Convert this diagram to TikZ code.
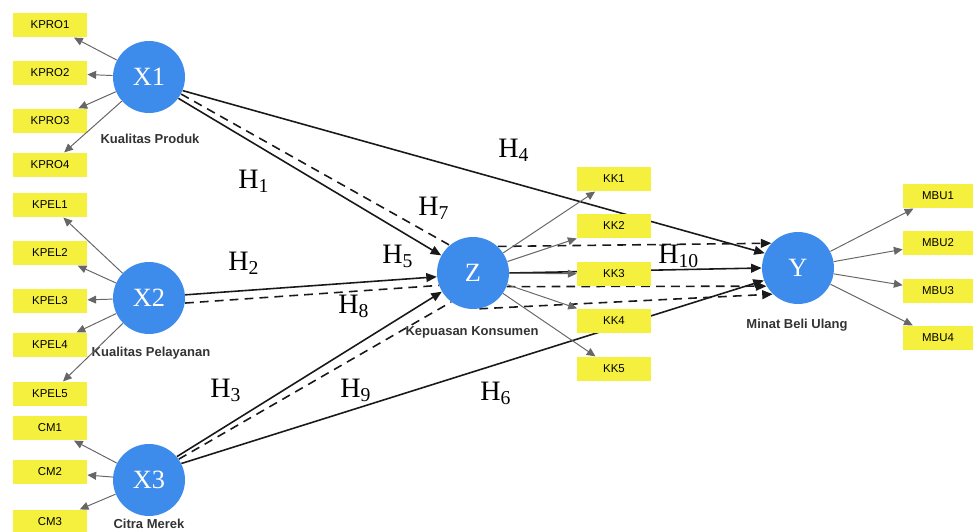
\documentclass[tikz,border=0pt]{standalone}
\usepackage{fontspec}
\setmainfont{Liberation Serif}
\setsansfont{Liberation Sans}
\usetikzlibrary{arrows.meta,backgrounds}
\definecolor{lvblue}{RGB}{61,139,235}
\definecolor{indyellow}{RGB}{245,240,62}
\newcommand{\hyp}[1]{H\textsubscript{#1}}

\tikzset{
  latent/.style={circle,fill=lvblue,text=white,minimum size=1.44cm,inner sep=0pt,
    font=\fontsize{15}{15}\selectfont},
  ind/.style={fill=indyellow,minimum width=1.48cm,minimum height=0.49cm,inner sep=0pt,
    font=\sffamily\fontsize{6.5}{7}\selectfont},
  lvname/.style={font=\sffamily\bfseries\fontsize{7.4}{9}\selectfont,text=black!80},
  hname/.style={anchor=base west,inner sep=0pt,font=\fontsize{16}{16}\selectfont},
  load/.style={-{Triangle[length=5pt,width=4.5pt]},black!60,line width=0.55pt},
  path/.style={-{Triangle[length=6pt,width=5pt]},black!90,line width=0.9pt},
  dpath/.style={black!90,line width=0.9pt,dash pattern=on 5pt off 3.5pt},
}

\begin{document}
\begin{tikzpicture}[x=0.02cm,y=-0.02cm]
\useasboundingbox (0,0) rectangle (974,531);

% latent variables
\node[latent] (X1) at (149,77) {X1};
\node[latent] (X2) at (149,298) {X2};
\node[latent] (X3) at (149,480) {X3};
\node[latent] (Z) at (473,273) {Z};
\node[latent] (Y) at (798,268) {Y};

\node[lvname] (nX1) at (150,139) {Kualitas Produk};
\node[lvname] (nX2) at (151,353) {Kualitas Pelayanan};
\node[lvname] (nX3) at (149,524) {Citra Merek};
\node[lvname] (nZ) at (472,332) {Kepuasan Konsumen};
\node[lvname] (nY) at (797,325) {Minat Beli Ulang};

% indicators
\node[ind] (kpro1) at (50,25) {KPRO1};
\node[ind] (kpro2) at (50,73) {KPRO2};
\node[ind] (kpro3) at (50,121) {KPRO3};
\node[ind] (kpro4) at (50,165) {KPRO4};
\node[ind] (kpel1) at (50,205) {KPEL1};
\node[ind] (kpel2) at (50,253) {KPEL2};
\node[ind] (kpel3) at (50,301) {KPEL3};
\node[ind] (kpel4) at (50,345) {KPEL4};
\node[ind] (kpel5) at (50,394) {KPEL5};
\node[ind] (cm1) at (50,428) {CM1};
\node[ind] (cm2) at (50,472) {CM2};
\node[ind] (cm3) at (50,522) {CM3};

\node[ind] (kk1) at (614,179) {KK1};
\node[ind] (kk2) at (614,226) {KK2};
\node[ind] (kk3) at (614,274) {KK3};
\node[ind] (kk4) at (614,321) {KK4};
\node[ind] (kk5) at (614,369) {KK5};

\node[ind,minimum width=1.4cm] (mbu1) at (938,196) {MBU1};
\node[ind,minimum width=1.4cm] (mbu2) at (938,243) {MBU2};
\node[ind,minimum width=1.4cm] (mbu3) at (938,291) {MBU3};
\node[ind,minimum width=1.4cm] (mbu4) at (938,338) {MBU4};

% loadings
\draw[load] (X1) -- (kpro1);
\draw[load] (X1) -- (kpro2);
\draw[load] (X1) -- (kpro3);
\draw[load] (X1) -- (kpro4);
\draw[load] (X2) -- (kpel1);
\draw[load] (X2) -- (kpel2);
\draw[load] (X2) -- (kpel3);
\draw[load] (X2) -- (kpel4);
\draw[load] (X2) -- (kpel5);
\draw[load] (X3) -- (cm1);
\draw[load] (X3) -- (cm2);
\draw[load] (X3) -- (cm3);
\draw[load] (Z) -- (kk1);
\draw[load] (Z) -- (kk2);
\draw[load] (Z) -- (kk3);
\draw[load] (Z) -- (kk4);
\draw[load] (Z) -- (kk5);
\draw[load] (Y) -- (mbu1);
\draw[load] (Y) -- (mbu2);
\draw[load] (Y) -- (mbu3);
\draw[load] (Y) -- (mbu4);

% structural paths, behind the boxes
\begin{pgfonlayer}{background}
\draw[path] (X1.-36) -- (Z.151);
\draw[dpath] (X1.-28) -- (Z.130);
\draw[path] (X1.-22) -- (Y.156);
\draw[path] (X2.5) -- (Z.186);
\draw[dpath] (X2.-8) -- (Z.200);
\draw[path] (X3.40) -- (Z.211);
\draw[dpath] (X3.35) -- (Z.233);
\draw[path] (X3.27) -- (Y.200);
\draw[path] (Z.east) -- (Y.180);
\draw[dpath,-{Triangle[length=6pt,width=5pt]}] (Z.47) -- (Y.137);
\draw[dpath,-{Triangle[length=6pt,width=5pt]}] (Z.-22) -- (Y.210);
\draw[dpath,-{Triangle[length=6pt,width=5pt]}] (Z.-80) -- (Y.226);
\end{pgfonlayer}

% hypotheses
\node[hname] (h1) at (238,188) {\hyp{1}};
\node[hname] (h2) at (228,270) {\hyp{2}};
\node[hname] (h3) at (210,397) {\hyp{3}};
\node[hname] (h4) at (498,157) {\hyp{4}};
\node[hname] (h5) at (382,263) {\hyp{5}};
\node[hname] (h6) at (480,400) {\hyp{6}};
\node[hname] (h7) at (418,215) {\hyp{7}};
\node[hname] (h8) at (338,313) {\hyp{8}};
\node[hname] (h9) at (340,397) {\hyp{9}};
\node[hname] (h10) at (658,263) {\hyp{10}};
\end{tikzpicture}
\end{document}
